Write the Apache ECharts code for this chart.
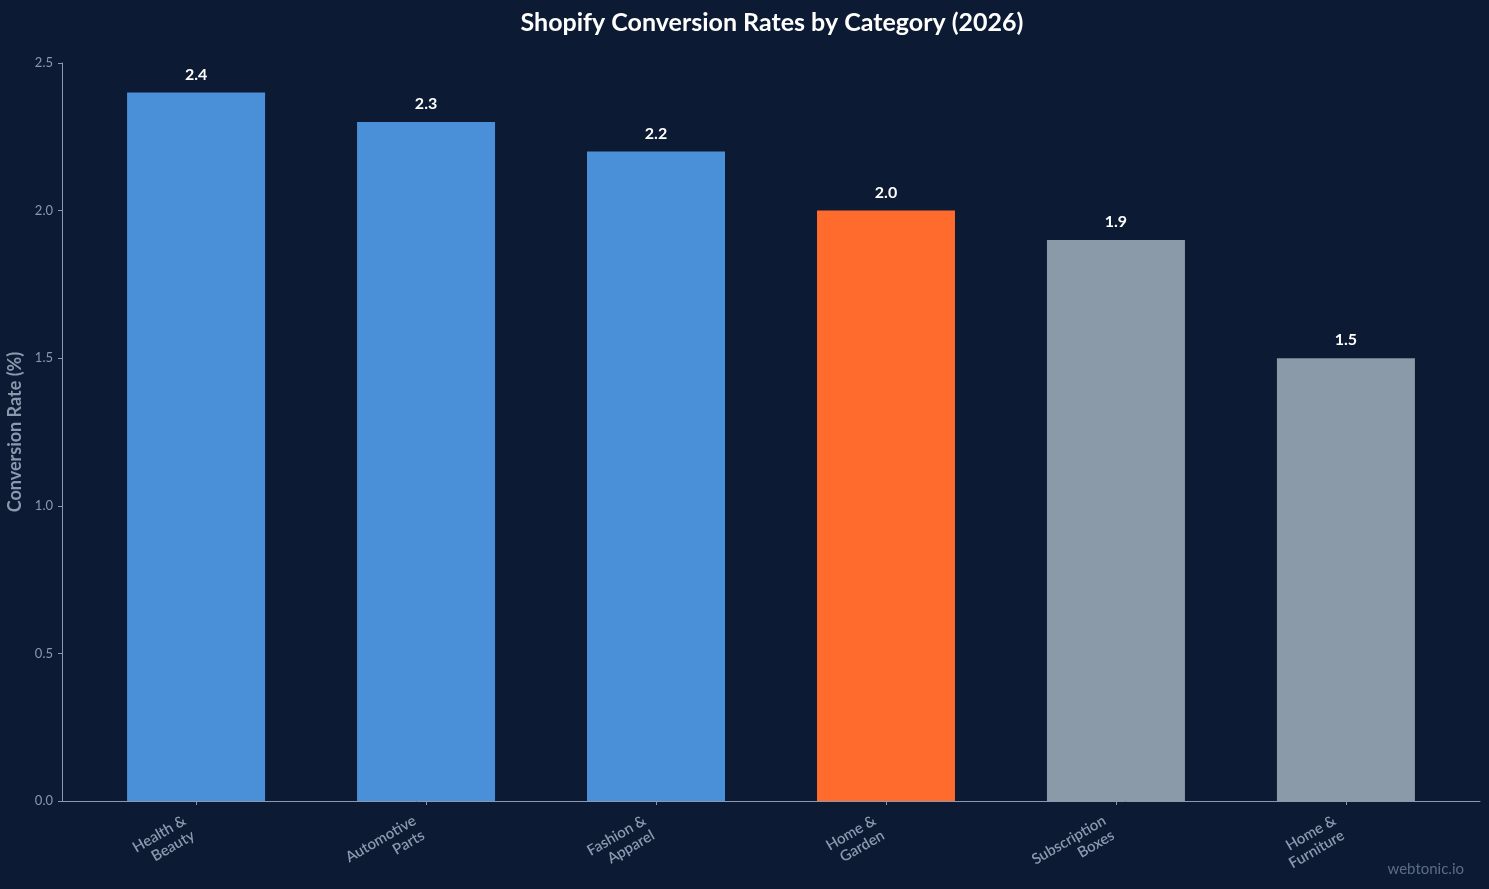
<!DOCTYPE html>
<html>
	<head>
		<meta charset="utf-8">
		<title>Shopify Conversion Rates</title>
		<style type="text/css">
			html, body{
				margin: 0;
				padding: 0;
				background: #0c1a33;
			}
			#main{
				width: 1489px;
				height: 889px;
			}
		</style>
	</head>
	<body>
		<div id="main"></div>
	</body>
<script src="https://cdn.jsdelivr.net/npm/echarts@6/dist/echarts.min.js" type="text/javascript" charset="utf-8"></script>
<script type="text/javascript">
	// data
	var categories = ['Health &\nBeauty', 'Automotive\nParts', 'Fashion &\nApparel', 'Home &\nGarden', 'Subscription\nBoxes', 'Home &\nFurniture']
	var rates = [2.4, 2.3, 2.2, 2.0, 1.9, 1.5]
	var barColors = ['#4a90d9', '#4a90d9', '#4a90d9', '#ff6b2c', '#8a9aa8', '#8a9aa8']
	var yTicks = [0, 0.5, 1.0, 1.5, 2.0, 2.5]

	var seriesData = []
	for (var i = 0; i < rates.length; i++){
		seriesData.push({
			value: [i, rates[i]],
			itemStyle: { color: barColors[i] }
		})
	}
	var positions = categories.map(function(c, i){ return i })

	var chartDom = document.getElementById('main');
	var myChart = echarts.init(chartDom);
	var option;
	var axisColor = '#8a99ad'
	var textGray = '#8a99ad'

	option = {
		backgroundColor: '#0c1a33',
		textStyle: { fontFamily: 'Lato' },
		title: {
			text: 'Shopify Conversion Rates by Category (2026)',
			left: 767,
			textAlign: 'center',
			top: 5,
			textStyle: { color: '#ffffff', fontSize: 25, fontWeight: 'bold', fontFamily: 'Lato' }
		},
		graphic: [{
			type: 'text',
			right: 25,
			bottom: 12,
			style: { text: 'webtonic.io', fill: '#5c6d85', fontSize: 15, fontFamily: 'Lato' }
		}],
		grid: { left: 62, right: 9, top: 63, bottom: 88, outerBoundsMode: 'none', containLabel: false },
		xAxis: {
			type: 'value',
			min: -0.583,
			max: 5.583,
			splitLine: { show: false },
			axisLine: { show: true, onZero: false, lineStyle: { color: axisColor, width: 1 } },
			axisTick: { show: true, customValues: positions, length: 4, lineStyle: { color: axisColor } },
			axisLabel: {
				customValues: positions,
				rotate: 30,
				margin: 2,
				align: 'right',
				verticalAlign: 'top',
				padding: [0, 18, 0, 0],
				color: textGray,
				fontSize: 15,
				fontWeight: 600,
				lineHeight: 17,
				fontFamily: 'Lato',
				formatter: function(v){ return categories[Math.round(v)] }
			}
		},
		yAxis: {
			type: 'value',
			min: 0,
			max: 2.5,
			interval: 0.5,
			name: 'Conversion Rate (%)',
			nameLocation: 'middle',
			nameGap: 35,
			nameTextStyle: { color: textGray, fontSize: 18, fontWeight: 'bold', fontFamily: 'Lato' },
			splitLine: { show: false },
			axisLine: { show: true, onZero: false, lineStyle: { color: axisColor, width: 1 } },
			axisTick: { show: true, length: 4, lineStyle: { color: axisColor } },
			axisLabel: {
				color: textGray,
				fontSize: 13,
				margin: 9,
				fontFamily: 'Lato',
				formatter: function(v){ return v.toFixed(1) }
			}
		},
		series: [{
			type: 'bar',
			data: seriesData,
			barWidth: 138,
			label: {
				show: true,
				position: 'top',
				distance: 10,
				color: '#ffffff',
				fontSize: 16,
				fontWeight: 'bold',
				fontFamily: 'Lato',
				formatter: function(p){ return p.value[1].toFixed(1) }
			}
		}]
	};

	option && myChart.setOption(option);
</script>
</html>
